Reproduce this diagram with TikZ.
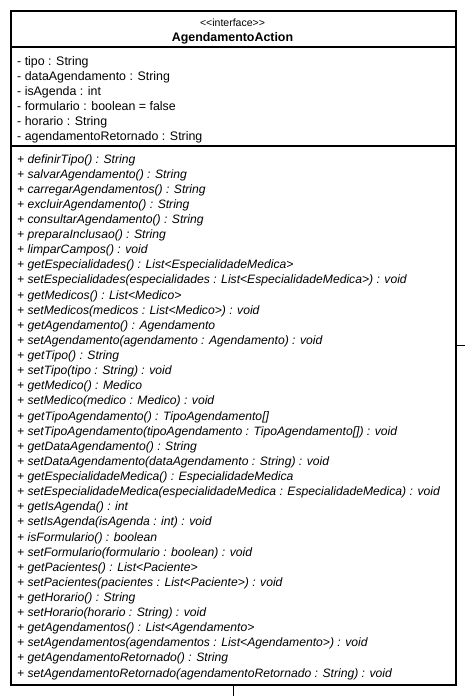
\documentclass[tikz,border=0pt]{standalone}
\usepackage{fontspec}
\setmainfont{Liberation Sans}
\begin{document}
\begin{tikzpicture}[x=1pt,y=-1pt,
  attr/.style={anchor=base west, inner sep=0pt, font=\fontsize{12.4}{15}\selectfont},
  meth/.style={anchor=base west, inner sep=0pt, font=\fontsize{12.15}{15}\selectfont\itshape},
  stereo/.style={anchor=base, inner sep=0pt, font=\fontsize{10.5}{12}\selectfont},
  title/.style={anchor=base, inner sep=0pt, font=\fontsize{12.4}{15}\selectfont\bfseries},
  frame/.style={draw, line width=2pt, inner sep=0pt, minimum width=445pt, minimum height=674pt},
  sep/.style={line width=1.3pt},
  link/.style={line width=1pt}]
\useasboundingbox (0,0) rectangle (465,696);
\node[frame, anchor=north west] (cls) at (10,10) {};
\node[stereo] (st) at (232.5,26) {{<}{<}interface{>}{>}};
\node[title] (nm) at (232.5,41) {AgendamentoAction};
\draw[sep] (10,47) -- (455,47);
\draw[sep] (10,146) -- (455,146);
\foreach \t [count=\i from 0] in {
 {tipo : String},
 {dataAgendamento : String},
 {isAgenda : int},
 {formulario : boolean = false},
 {horario : String},
 {agendamentoRetornado : String}}
 \node[attr] (a\i) at (17,65+15*\i) {- \t};
\foreach \t [count=\i from 0] in {
 {definirTipo() : String},
 {salvarAgendamento() : String},
 {carregarAgendamentos() : String},
 {excluirAgendamento() : String},
 {consultarAgendamento() : String},
 {preparaInclusao() : String},
 {limparCampos() : void},
 {getEspecialidades() : List<EspecialidadeMedica>},
 {setEspecialidades(especialidades : List<EspecialidadeMedica>) : void},
 {getMedicos() : List<Medico>},
 {setMedicos(medicos : List<Medico>) : void},
 {getAgendamento() : Agendamento},
 {setAgendamento(agendamento : Agendamento) : void},
 {getTipo() : String},
 {setTipo(tipo : String) : void},
 {getMedico() : Medico},
 {setMedico(medico : Medico) : void},
 {getTipoAgendamento() : TipoAgendamento[]},
 {setTipoAgendamento(tipoAgendamento : TipoAgendamento[]) : void},
 {getDataAgendamento() : String},
 {setDataAgendamento(dataAgendamento : String) : void},
 {getEspecialidadeMedica() : EspecialidadeMedica},
 {setEspecialidadeMedica(especialidadeMedica : EspecialidadeMedica) : void},
 {getIsAgenda() : int},
 {setIsAgenda(isAgenda : int) : void},
 {isFormulario() : boolean},
 {setFormulario(formulario : boolean) : void},
 {getPacientes() : List<Paciente>},
 {setPacientes(pacientes : List<Paciente>) : void},
 {getHorario() : String},
 {setHorario(horario : String) : void},
 {getAgendamentos() : List<Agendamento>},
 {setAgendamentos(agendamentos : List<Agendamento>) : void},
 {getAgendamentoRetornado() : String},
 {setAgendamentoRetornado(agendamentoRetornado : String) : void}}
 \node[meth] (m\i) at (17,163+15.12*\i) {+ \t};
\coordinate (rEnd) at (465,345);
\coordinate (bEnd) at (233,696);
\draw[link] (cls.east |- rEnd) -- (rEnd);
\draw[link] (cls.south -| bEnd) -- (bEnd);
\end{tikzpicture}
\end{document}
